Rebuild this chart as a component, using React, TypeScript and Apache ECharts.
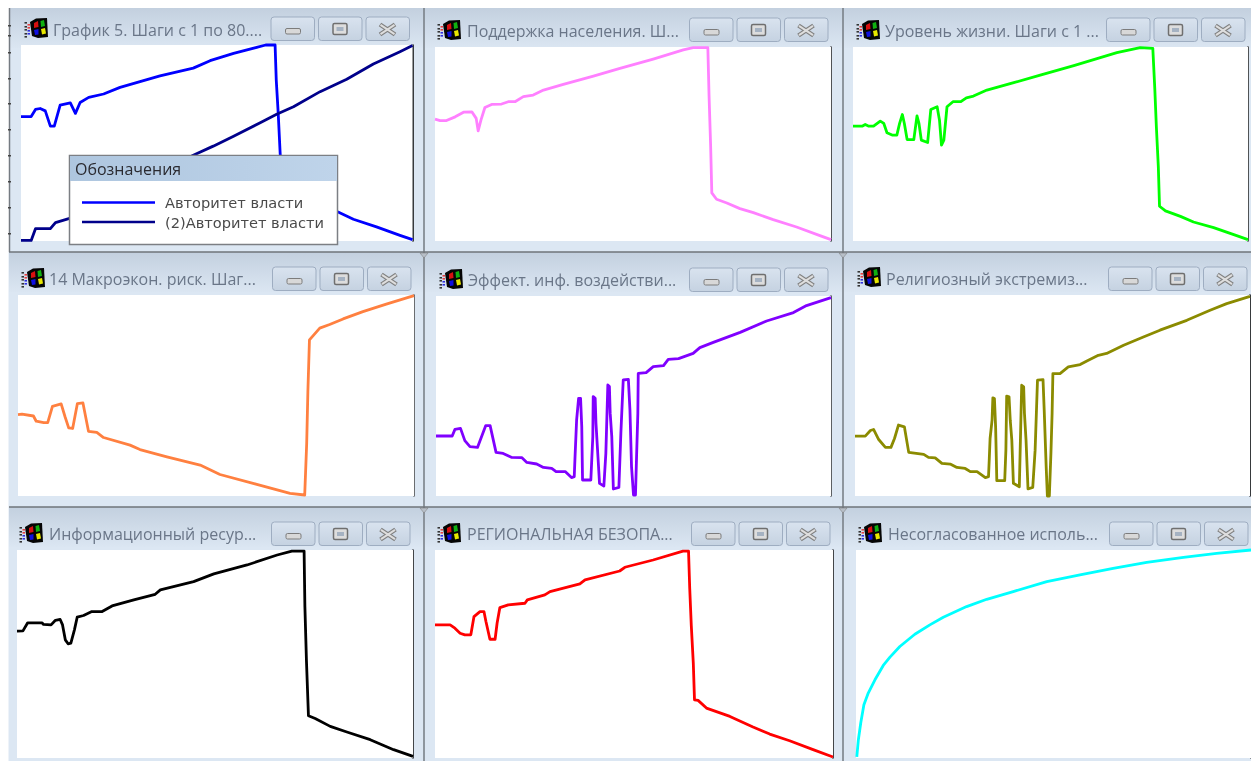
import React, { useEffect, useRef } from "react";
import * as echarts from "echarts";

type P = [number, number];

// Step position (percent of run) and level (percent of scale).
const authority: P[] = [[0,63.5],[2.6,63.5],[3.7,67.1],[4.9,67.6],[6.2,66.4],[7.5,58.6],[8.5,58.6],[10,69.3],[12.6,70.5],[13.9,65.1],[15.1,70.7],[17.3,73.3],[21.1,75],[25.3,78.4],[30.4,81.3],[35.5,84.2],[44,88.2],[48.3,92],[54.3,95.7],[60.2,98.8],[62.5,100],[64.9,100],[65.2,82.1],[65.7,65.1],[66.2,44.6],[66.8,27.6],[68.7,23.3],[81,14.8],[84.9,11.1],[90.8,7.2],[96.8,2.9],[100,0.7]];
const authority2: P[] = [[0,0.3],[2.6,0.3],[3.7,6.3],[7.5,6.3],[8.8,9.4],[12.2,11.4],[20.2,19.4],[32.1,31.9],[44,43.8],[49.1,48.4],[54.3,53.5],[61.1,60.3],[65.3,64.7],[69.6,68.5],[76.4,76.2],[83.2,82.5],[90,90.3],[96.8,96.6],[100,99.7]];
const support: P[] = [[0,62.8],[1.3,62.1],[2.9,62.1],[5.1,64],[7.2,66.4],[9.3,66.6],[10.4,63.2],[10.9,56.8],[11.6,62.3],[12.6,68.8],[14.3,70.4],[16.8,70.6],[18.5,71.8],[20.2,71.8],[22.3,74.4],[24.8,75.2],[27.4,77.8],[32.4,80.7],[40,85],[46.7,89],[55.1,93.8],[62.7,98.5],[65.2,99.7],[68.9,99.7],[69.2,75.2],[69.6,49.4],[69.9,24.8],[71.1,21.5],[73.7,19.6],[77,16.7],[80.4,14.6],[85.4,11],[91.3,7.2],[97.2,2.8],[100,0.7]];
const living: P[] = [[0,59.2],[2.3,59.2],[3.1,60.1],[4,59.2],[5.2,59.2],[6.9,61.8],[7.8,60.6],[8.6,55.8],[9.9,54.6],[11.1,54.6],[11.8,60.6],[12.5,65.2],[13,60.6],[13.7,52.3],[15.4,52.3],[16.2,64.5],[16.7,60.6],[17.3,52],[18.9,50.8],[19.7,67.8],[21.3,69.2],[21.9,62.3],[22.4,49.4],[23,52],[23.8,69.2],[25.3,71.8],[27.3,71.8],[28.7,73.8],[30.5,74.7],[33.9,77.8],[40.7,81.6],[47.4,85.5],[55.9,90.4],[66.8,97.1],[72.7,99.7],[75.9,99.3],[76.4,78.7],[76.8,58.9],[77.3,38.2],[77.6,17.9],[79.1,15.5],[82.9,12.7],[86.2,9.8],[91.3,6.9],[96.4,3.3],[100,0.7]];
const macroRisk: P[] = [[0,40.5],[1,40.7],[3.9,39.8],[4.6,37.2],[6.5,36.5],[7.5,36.5],[8.7,44.6],[10.9,45.8],[11.9,39.3],[12.8,33.9],[13.8,33.6],[15,46],[16.4,46.3],[17.8,32.2],[19.9,31.6],[21.6,29.1],[28.3,25.3],[30.8,23.1],[37.6,19.5],[46,15.4],[51,10.7],[60.3,5.8],[68.7,1.3],[72.4,0.5],[72.9,26.1],[73.2,51.7],[73.6,77.7],[76.2,83.5],[78.7,85.3],[82.1,88.1],[87.1,91.7],[93,95.5],[100,99.7]];
const infoEffect: P[] = [[0,30],[4.1,30],[4.8,33.3],[6.2,33.8],[7.3,27.7],[8.6,24.7],[10.5,24.3],[12.6,35.2],[13.7,35.2],[15.2,21.8],[17,21.3],[19.2,19.3],[21.7,19.2],[23,16.8],[25.5,16],[27.2,14.3],[29.3,13.8],[30.4,12.2],[32.7,12.2],[34.3,9.2],[35,9.7],[35.2,19.7],[35.6,38],[36.1,48.8],[36.6,48.8],[36.9,34.7],[37.1,8],[39.2,8],[39.7,29.7],[39.8,49.7],[40.3,48.8],[40.5,36.3],[40.9,23],[41.4,6.3],[42.5,5],[43,21.3],[43.5,55.5],[43.9,54.7],[44.1,41.3],[44.5,29.7],[44.9,3.5],[46.3,4.3],[46.8,31.3],[47.4,58],[48.7,58.3],[49.1,43],[49.5,14.7],[50,0.5],[50.5,0.5],[50.8,21.3],[51.1,41.3],[51.2,61.3],[53.2,61.7],[55,64.7],[57.6,65.2],[58.8,68.3],[61.4,68.7],[65.1,71.3],[66.8,74.2],[70.2,76.8],[77,81.8],[83.7,87.5],[90.5,91.7],[93.8,95.2],[100,99.2]];
const extremism: P[] = [[0,29.8],[2.6,29.8],[3.9,32.6],[4.7,33.1],[6,28.1],[7.7,24.2],[9.1,24.2],[10,28.6],[11,35.3],[12.5,34.4],[13.6,21.7],[17.4,20.7],[18.6,19.2],[20.3,19],[22,16.2],[24.1,15.9],[25.8,14.2],[27.9,13.7],[29.2,12.1],[30.9,12.1],[33,9.1],[33.8,9.6],[34,18.7],[34.2,28.6],[34.7,37.7],[34.9,48.8],[35.3,48.5],[35.6,34.4],[35.9,7.6],[37.9,7.6],[38.2,22.8],[38.4,49.7],[39,49.3],[39.3,37.7],[39.7,27.8],[40.1,6.3],[41.6,4.6],[41.8,21.2],[42.2,55.1],[42.7,54.3],[42.9,41.1],[43.3,27.8],[43.8,3.5],[45,4.3],[45.6,22.8],[46.2,57.6],[47.6,57.9],[47.9,42.7],[48.4,14.6],[48.7,0],[49.2,0],[49.6,21.2],[49.9,41.1],[50.1,60.9],[51.9,60.9],[54,64.2],[57,65.4],[58.7,67.2],[61.6,70],[63.7,70.9],[68,75],[73,79.1],[77.2,82.5],[84,87.4],[89.9,92.4],[94.1,95.7],[100,99.3]];
const infoResource: P[] = [[0,61],[1.5,61.1],[2.7,65],[6.3,65],[6.7,64.2],[8.6,64],[9.7,66.2],[10.9,66.6],[11.5,64],[12.2,56.8],[12.9,54.9],[13.6,55.2],[14.5,61.6],[15.2,67.7],[16.8,68.5],[18.9,70.4],[21.5,70.4],[24,73.1],[29.5,76],[34.9,78.7],[36.2,80.8],[44.6,84.8],[49.7,88.5],[58.1,92.8],[65.7,97.6],[69.4,99.5],[72.5,99.5],[72.7,72.8],[73.1,46.4],[73.6,20.3],[75.3,19],[79.1,15.2],[83.3,12.5],[89.2,8.8],[95.1,4],[100,0.8]];
const regionalSecurity: P[] = [[0,64],[3.8,64],[5,62.4],[6.3,60],[7.5,59.2],[9,59.2],[9.8,68],[11.3,70.4],[12.3,70.4],[12.8,65.6],[13.8,57.1],[15.1,57.1],[15.6,64.8],[16.3,72.3],[18.4,73.6],[22.6,74.4],[23.2,76],[27.6,78.4],[28.9,80],[36.4,83.7],[37.7,85.6],[46.4,89.9],[47.7,91.7],[54.8,95.2],[62.3,99.5],[63.7,99.5],[64,81.6],[64.4,63.5],[64.9,45.6],[65.2,28],[66.1,27.7],[68.2,24],[74.1,20],[79.9,14.9],[84.1,11.5],[89.1,8.3],[95,4],[100,0.5]];
const uncoordinated: P[] = [[0.2,0.5],[0.6,8.8],[1.2,16.8],[2,25.6],[3.1,31.2],[4.8,37.6],[6.9,44.5],[8.6,48.5],[11.1,53.6],[14.9,59.5],[18.7,64],[22.1,67.7],[28,72.8],[33.1,76.3],[39.8,80],[48.3,84.8],[56.7,88],[65.1,91.2],[73.6,94.1],[82.9,96.5],[91.3,98.4],[100,100]];

const legendTitle = "Обозначения";
const legendNames = ["Авторитет власти", "(2)Авторитет власти"];

const panels = [
  { title: "График 5. Шаги с 1 по 80....", plot: [21, 45, 412.5, 241], textX: 53, textY: 30, icon: [24, 18], btn: 17, line: "#000",
    series: [{ name: legendNames[0], data: authority, color: "#0000ff" }, { name: legendNames[1], data: authority2, color: "#00008b" }] },
  { title: "Поддержка населения. Ш...", plot: [435, 47, 831, 241], textX: 467, textY: 31, icon: [437, 20], btn: 18, line: "#222",
    series: [{ name: "Поддержка населения", data: support, color: "#ff80ff" }] },
  { title: "Уровень жизни. Шаги с 1 ...", plot: [853, 47, 1248, 241], textX: 885, textY: 31, icon: [856, 20], btn: 18, line: "#222",
    series: [{ name: "Уровень жизни", data: living, color: "#00ff00" }] },
  { title: "14 Макроэкон. риск. Шаг...", plot: [18, 295, 414, 496], textX: 49, textY: 279, icon: [21, 268], btn: 267, line: "#444",
    series: [{ name: "14 Макроэкон. риск", data: macroRisk, color: "#ff8040" }] },
  { title: "Эффект. инф. воздействи...", plot: [436, 296, 831, 496], textX: 468, textY: 280, icon: [439, 269], btn: 268, line: "#333",
    series: [{ name: "Эффект. инф. воздействия", data: infoEffect, color: "#8000ff" }] },
  { title: "Религиозный экстремиз...", plot: [855, 295, 1250, 496], textX: 886, textY: 279, icon: [857, 267], btn: 267, line: "#000",
    series: [{ name: "Религиозный экстремизм", data: extremism, color: "#8b8b00" }] },
  { title: "Информационный ресур...", plot: [17, 550, 413, 758], textX: 49, textY: 534, icon: [19, 523], btn: 522, line: "#111",
    series: [{ name: "Информационный ресурс", data: infoResource, color: "#000000" }] },
  { title: "РЕГИОНАЛЬНАЯ БЕЗОПА...", plot: [435, 550, 833, 758], textX: 467, textY: 534, icon: [437, 523], btn: 522, line: "#111",
    series: [{ name: "РЕГИОНАЛЬНАЯ БЕЗОПАСНОСТЬ", data: regionalSecurity, color: "#ff0000" }] },
  { title: "Несогласованное исполь...", plot: [856, 550, 1251, 758], textX: 888, textY: 534, icon: [858, 523], btn: 522, line: "#111",
    series: [{ name: "Несогласованное использование", data: uncoordinated, color: "#00ffff" }] },
];

const colEdges = [9, 424, 843, 1251];
const rowEdges = [8, 252, 507, 761];

function windowIcon(x: number, y: number) {
  const p = (pts: number[][], fill: string) => ({ type: "polygon", z: 1, shape: { points: pts.map(([a, b]) => [x + a, y + b]) }, style: { fill } });
  const dash = (dx: number, dy: number, fill: string) => ({ type: "rect", z: 1, shape: { x: x + dx, y: y + dy, width: 2.5, height: 1.6 }, style: { fill } });
  return [
    p([[6, 4], [12, 0.5], [23, 0], [24, 19], [14, 20], [8, 18]], "#050505"),
    p([[10, 5], [14, 3], [14.5, 9], [10, 10]], "#d81010"),
    p([[16.5, 3], [20, 2], [21, 8], [17, 9]], "#10b010"),
    p([[10, 12], [14.5, 11], [14.5, 16.5], [11, 17]], "#1010e0"),
    p([[17, 11], [21, 10], [22, 15.5], [18, 16.5]], "#e8e800"),
    dash(0.5, 4, "#333"), dash(0.5, 8, "#333"), dash(0.5, 11, "#333"), dash(0.5, 15, "#333"), dash(0.5, 18, "#333"),
    dash(3.5, 6, "#e84040"), dash(3.5, 9, "#e84040"), dash(3.5, 12, "#3030e0"), dash(3.5, 15, "#3030e0"),
  ];
}

function buttons(right: number, top: number) {
  const out: any[] = [];
  const xs = [right - 141.5, right - 94, right - 46.5];
  xs.forEach((x) => {
    out.push({
      type: "rect", z: 1,
      shape: { x, y: top, width: 43.5, height: 23.5, r: 3 },
      style: { fill: { type: "linear", x: 0, y: 0, x2: 0, y2: 1, colorStops: [{ offset: 0, color: "#d9e3ef" }, { offset: 1, color: "#c5d2e1" }] }, stroke: "#9eadc1", lineWidth: 1 },
    });
  });
  const cy = top + 12.5;
  out.push({ type: "rect", z: 1, shape: { x: xs[0] + 14.5, y: cy - 1, width: 15, height: 5.5, r: 1.5 }, style: { fill: "#d8d8d8", stroke: "#7c7c7c", lineWidth: 1 } });
  out.push({ type: "rect", z: 1, shape: { x: xs[1] + 14.5, y: cy - 6, width: 14, height: 11, r: 1.5 }, style: { fill: "#ddd", stroke: "#6f6f6f", lineWidth: 1.5 } });
  out.push({ type: "rect", z: 1, shape: { x: xs[1] + 18, y: cy - 2.5, width: 7, height: 4 }, style: { fill: "#a5b2c2" } });
  const c = xs[2] + 21.5;
  [[-7.5, -5, 7.5, 5], [-7.5, 5, 7.5, -5]].forEach(([a, b, d, e]) => {
    out.push({ type: "line", z: 1, shape: { x1: c + a, y1: cy + b, x2: c + d, y2: cy + e }, style: { stroke: "#808080", lineWidth: 4.5 } });
  });
  [[-7, -4.6, 7, 4.6], [-7, 4.6, 7, -4.6]].forEach(([a, b, d, e]) => {
    out.push({ type: "line", z: 1, shape: { x1: c + a, y1: cy + b, x2: c + d, y2: cy + e }, style: { stroke: "#dedede", lineWidth: 2 } });
  });
  return out;
}

function chrome() {
  const els: any[] = [];
  for (let r = 0; r < 3; r++) {
    for (let c = 0; c < 3; c++) {
      const x = colEdges[c], y = rowEdges[r], w = colEdges[c + 1] - x;
      els.push({ type: "rect", z: 0, shape: { x, y, width: w, height: rowEdges[r + 1] - y }, style: { fill: "#dce7f3" } });
      els.push({
        type: "rect", z: 0, shape: { x, y, width: w, height: 40 },
        style: { fill: { type: "linear", x: 0, y: 0, x2: 0, y2: 1, colorStops: [{ offset: 0, color: "#c3d0df" }, { offset: 1, color: "#dbe6f2" }] } },
      });
    }
  }
  [424, 843].forEach((x) => els.push({ type: "line", z: 1, shape: { x1: x, y1: 8, x2: x, y2: 761 }, style: { stroke: "#757b82", lineWidth: 1.5 } }));
  els.push({ type: "line", z: 1, shape: { x1: 9.5, y1: 8, x2: 9.5, y2: 252 }, style: { stroke: "#757b82", lineWidth: 1.5 } });
  els.push({ type: "line", z: 1, shape: { x1: 8.5, y1: 252, x2: 8.5, y2: 761 }, style: { stroke: "#eef3f9", lineWidth: 1 } });
  [252, 507].forEach((y) => els.push({ type: "line", z: 1, shape: { x1: 9, y1: y, x2: 1251, y2: y }, style: { stroke: "#6f747a", lineWidth: 1.5 } }));
  [[424, 252], [843, 252], [424, 507], [843, 507]].forEach(([x, y]) =>
    els.push({ type: "polygon", z: 1, shape: { points: [[x - 4, y + 1], [x + 4, y + 1], [x, y + 6]] }, style: { fill: "#b8bfc8", stroke: "#777", lineWidth: 0.5 } })
  );
  [25, 35, 52, 78, 103, 129, 155, 181, 207, 233].forEach((y) =>
    els.push({ type: "rect", z: 1, shape: { x: 8, y, width: 3, height: 1.5 }, style: { fill: "#444" } })
  );
  panels.forEach((p) => {
    const [l, t, r, b] = p.plot;
    els.push({ type: "rect", z: 1, shape: { x: l, y: t, width: r - l, height: b - t }, style: { fill: "#ffffff" } });
    els.push({ type: "text", z: 1, x: p.textX, y: p.textY, style: { text: p.title, fill: "#6a7688", font: '16px "Open Sans"', verticalAlign: "middle" } });
    els.push(...windowIcon(p.icon[0], p.icon[1]));
    els.push(...buttons(r, p.btn));
  });
  // legend frame, above the first window's lines
  els.push({ type: "rect", z: 10, shape: { x: 69.5, y: 155.5, width: 268, height: 89 }, style: { fill: "#fff", stroke: "#7c7f84", lineWidth: 1.5 } });
  els.push({
    type: "rect", z: 10, shape: { x: 70, y: 156, width: 267, height: 25 },
    style: { fill: { type: "linear", x: 0, y: 0, x2: 1, y2: 0, colorStops: [{ offset: 0, color: "#aec6df" }, { offset: 1, color: "#bfd4ea" }] } },
  });
  els.push({ type: "text", z: 11, x: 75, y: 169, style: { text: legendTitle, fill: "#2a2a30", font: '16px "Open Sans"', verticalAlign: "middle" } });
  return els;
}

export default function App() {
  const ref = useRef<HTMLDivElement>(null);
  useEffect(() => {
    document.body.style.margin = "0";
    const chart = echarts.init(ref.current!, undefined, { renderer: "svg" });
    const grids = panels.map((p) => ({
      left: p.plot[0], top: p.plot[1], width: p.plot[2] - p.plot[0], height: p.plot[3] - p.plot[1],
    }));
    const xAxes = panels.map((_, i) => ({ type: "value", gridIndex: i, min: 0, max: 100, show: false }));
    const yAxes = panels.map((p, i) => ({
      type: "value", gridIndex: i, min: 0, max: 100, position: "right",
      axisLine: { show: true, onZero: false, lineStyle: { color: p.line, width: 1.5 } },
      axisTick: { show: false }, axisLabel: { show: false }, splitLine: { show: false },
    }));
    const series = panels.flatMap((p, i) =>
      p.series.map((s) => ({
        type: "line", name: s.name, data: s.data, xAxisIndex: i, yAxisIndex: i,
        showSymbol: false, symbol: "none", clip: false, z: 3,
        itemStyle: { color: s.color },
        lineStyle: { color: s.color, width: 2.8, join: "round" },
      }))
    );
    chart.setOption({
      animation: false,
      backgroundColor: "#ffffff",
      grid: grids, xAxis: xAxes, yAxis: yAxes, series,
      legend: {
        data: legendNames, orient: "vertical", left: 82, top: 195, padding: 0,
        icon: "rect", itemWidth: 73, itemHeight: 2.5, itemGap: 4.5, z: 20, selectedMode: false,
        textStyle: { color: "#4a4a4a", fontFamily: "DejaVu Sans", fontSize: 14.6, padding: [0, 0, 0, 5] },
      },
      graphic: { elements: chrome() },
    });
    return () => chart.dispose();
  }, []);
  return <div ref={ref} style={{ width: 1251, height: 761, display: "block", filter: "blur(0.35px)" }} />;
}
